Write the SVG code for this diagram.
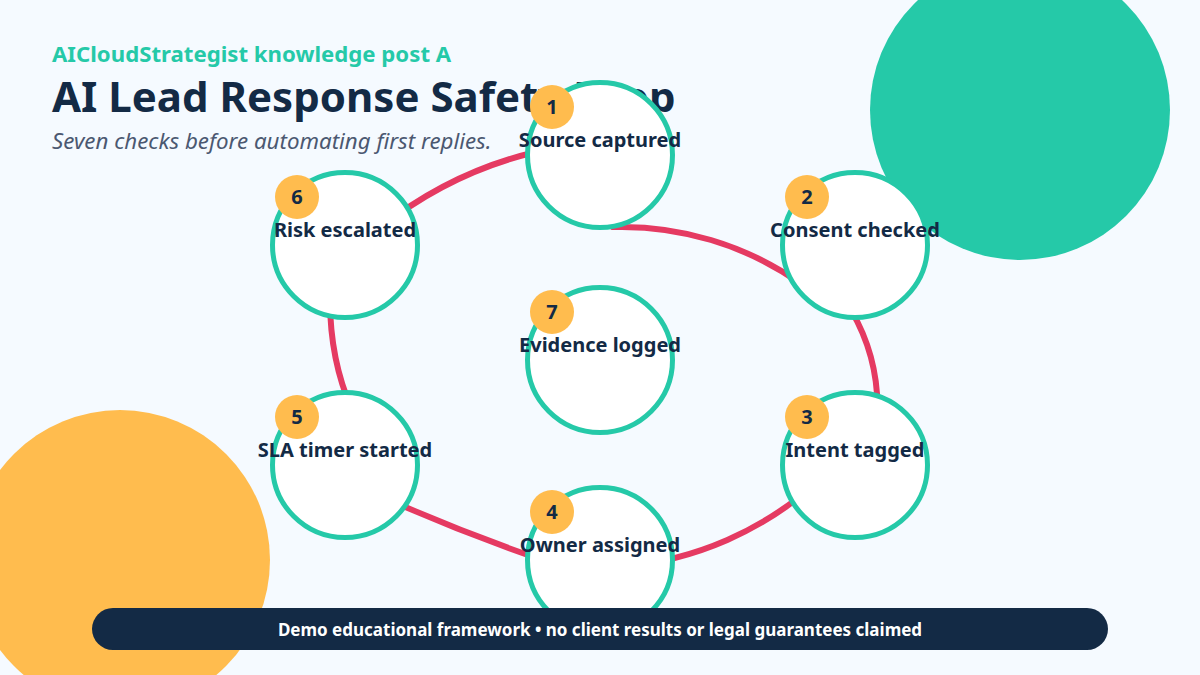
<svg xmlns="http://www.w3.org/2000/svg" width="1200" height="675" viewBox="0 0 1200 675">
  <style>
    .node circle.ring { fill: #ffffff; stroke: #25c9a8; stroke-width: 5; }
    .node circle.badge { fill: #ffbc4e; }
    .label { font-family: "Noto Sans", "Open Sans", sans-serif; font-weight: 700; font-size: 20px; fill: #132a45; text-anchor: middle; }
    .num { font-family: "Noto Sans", "Open Sans", sans-serif; font-weight: 700; font-size: 20px; fill: #132a45; text-anchor: middle; }
    .edge { fill: none; stroke: #e53a62; stroke-width: 6; stroke-linecap: round; }
  </style>
  <rect width="1200" height="675" fill="#f5faff"/>
  <circle cx="1020" cy="110" r="150" fill="#25c9a8"/>
  <circle cx="120" cy="560" r="150" fill="#ffbc4e"/>

  <text x="52" y="62" font-family="Noto Sans, Open Sans, sans-serif" font-weight="700" font-size="22.2" fill="#25c9a8">AICloudStrategist knowledge post A</text>
  <text x="52" y="112" font-family="Noto Sans, Open Sans, sans-serif" font-weight="700" font-size="42" fill="#132a45">AI Lead Response Safety Loop</text>
  <text x="52" y="149" font-family="Noto Sans, Open Sans, sans-serif" font-style="italic" font-size="22.3" fill="#4b5871">Seven checks before automating first replies.</text>

  <g id="connectors">
    <path class="edge" d="M 613 227.1 A 311 311 0 0 1 800 283"/>
    <path class="edge" d="M 851 310 A 194 194 0 0 1 877.5 407"/>
    <path class="edge" d="M 820 479.4 A 335 335 0 0 1 620 566.9"/>
    <path class="edge" d="M 560 566 Q 470 536 380 496"/>
    <path class="edge" d="M 352 410 Q 330 360 330 300"/>
    <path class="edge" d="M 380 228 Q 460 164.5 560 147"/>
  </g>

  <g id="node1" class="node">
    <circle class="ring" cx="600" cy="155" r="72.5"/>
    <circle class="badge" cx="552" cy="107" r="22"/>
    <text class="num" x="552" y="114">1</text>
    <text class="label" x="600" y="147">Source captured</text>
  </g>
  <g id="node2" class="node">
    <circle class="ring" cx="855" cy="245" r="72.5"/>
    <circle class="badge" cx="807" cy="197" r="22"/>
    <text class="num" x="807" y="204">2</text>
    <text class="label" x="855" y="237">Consent checked</text>
  </g>
  <g id="node3" class="node">
    <circle class="ring" cx="855" cy="465" r="72.5"/>
    <circle class="badge" cx="807" cy="417" r="22"/>
    <text class="num" x="807" y="424">3</text>
    <text class="label" x="855" y="457">Intent tagged</text>
  </g>
  <g id="node4" class="node">
    <circle class="ring" cx="600" cy="560" r="72.5"/>
    <circle class="badge" cx="552" cy="512" r="22"/>
    <text class="num" x="552" y="519">4</text>
    <text class="label" x="600" y="552">Owner assigned</text>
  </g>
  <g id="node5" class="node">
    <circle class="ring" cx="345" cy="465" r="72.5"/>
    <circle class="badge" cx="297" cy="417" r="22"/>
    <text class="num" x="297" y="424">5</text>
    <text class="label" x="345" y="457">SLA timer started</text>
  </g>
  <g id="node6" class="node">
    <circle class="ring" cx="345" cy="245" r="72.5"/>
    <circle class="badge" cx="297" cy="197" r="22"/>
    <text class="num" x="297" y="204">6</text>
    <text class="label" x="345" y="237">Risk escalated</text>
  </g>
  <g id="node7" class="node">
    <circle class="ring" cx="600" cy="360" r="72.5"/>
    <circle class="badge" cx="552" cy="312" r="22"/>
    <text class="num" x="552" y="319">7</text>
    <text class="label" x="600" y="352">Evidence logged</text>
  </g>

  <g id="footer">
    <rect x="92" y="608" width="1016" height="42" rx="21" fill="#132a45"/>
    <text x="600" y="636" font-family="Noto Sans, Open Sans, sans-serif" font-weight="700" font-size="17" fill="#ffffff" text-anchor="middle">Demo educational framework • no client results or legal guarantees claimed</text>
  </g>
</svg>
